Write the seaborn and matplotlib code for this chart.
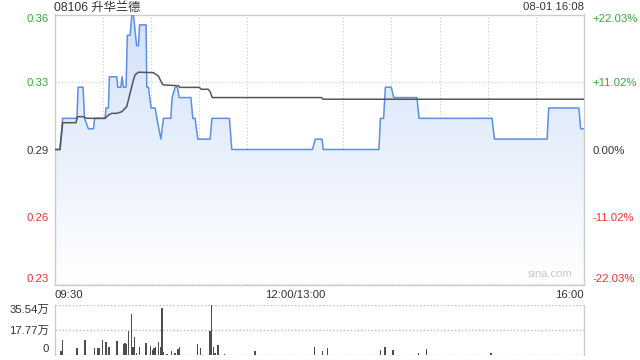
import numpy as np
import pandas as pd
import matplotlib
matplotlib.use("Agg")
import matplotlib.pyplot as plt
import seaborn as sns

# ---------------- data ----------------
title = "08106 升华兰德"
stamp = "08-01 16:08"
prev_close = 0.295
pct_levels = [-0.2203, -0.1102, 0.0, 0.1102, 0.2203]
price_labels = ["0.23", "0.26", "0.29", "0.33", "0.36"]
pct_labels = ["-22.03%", "-11.02%", "0.00%", "+11.02%", "+22.03%"]
time_ticks = [0, 150, 330]
time_labels = ["09:30", "12:00/13:00", "16:00"]

# minutes after 09:30 on the trading clock (lunch break removed)
price_t = [0, 3.4, 5.1, 14.0, 14.7, 17.8, 18.7, 21.1, 24.3, 25.0, 31.5, 32.1, 33.6, 34.2,
           38.8, 39.4, 41.3, 42.1, 42.9, 44.6, 45.4, 47.1, 48.2, 49.2, 51.2, 52.3, 53.0,
           57.1, 57.5, 58.6, 60.2, 62.7, 63.8, 66.3, 67.9, 72.5, 73.3, 75.2, 76.6, 77.7,
           85.0, 86.2, 87.6, 89.3, 97.0, 98.1, 109.0, 110.5, 160.8, 162.5, 166.7, 167.5,
           202.2, 203.1, 205.1, 206.2, 209.9, 211.4, 225.9, 227.2, 272.7, 274.2, 307.0,
           308.0, 326.8, 327.9, 330]
price_p = [0.295, 0.295, 0.310, 0.310, 0.325, 0.325, 0.310, 0.305, 0.305, 0.310, 0.310,
           0.315, 0.315, 0.330, 0.330, 0.325, 0.325, 0.330, 0.325, 0.325, 0.350, 0.350,
           0.360, 0.360, 0.345, 0.345, 0.355, 0.355, 0.325, 0.325, 0.315, 0.315, 0.310,
           0.300, 0.310, 0.310, 0.320, 0.325, 0.325, 0.320, 0.320, 0.310, 0.310, 0.300,
           0.300, 0.310, 0.310, 0.295, 0.295, 0.300, 0.300, 0.295, 0.295, 0.310, 0.310,
           0.325, 0.325, 0.320, 0.320, 0.310, 0.310, 0.300, 0.300, 0.315, 0.315, 0.305,
           0.305]

avg_t = [0, 3.4, 5.1, 13.4, 14.3, 18.0, 20.1, 31.5, 33.6, 35.7, 38.8, 41.9, 45.0, 47.1,
         49.2, 50.2, 52.3, 61.6, 64.8, 66.9, 67.7, 77.2, 78.3, 90.3, 91.4, 95.8, 97.0,
         98.3, 166.3, 167.5, 330]
avg_p = [0.295, 0.295, 0.3079, 0.3079, 0.3108, 0.3108, 0.3100, 0.3100, 0.3116, 0.3124,
         0.3124, 0.3132, 0.3156, 0.3221, 0.3285, 0.3309, 0.3322, 0.3320, 0.3303, 0.3269,
         0.3261, 0.3257, 0.3249, 0.3249, 0.3240, 0.3240, 0.3228, 0.3200, 0.3200, 0.3192,
         0.3192]

vol_t = [4, 5, 14, 19, 25, 27, 28, 30, 32, 34, 39, 43, 44, 45, 46, 48, 49, 50, 51, 53,
         57, 60, 61, 62, 63, 65, 66, 67, 68, 70, 73, 75, 77, 78, 89, 91, 97, 98, 99, 100,
         102, 106, 125, 162, 167, 170, 203, 206, 211, 227, 232, 272]
vol_v = [2.4, 10.3, 4.6, 10.3, 4.6, 4.6, 4.6, 10.3, 8.9, 5.5, 9.6, 7.5, 8.2, 7.7, 17.1,
         29.1, 5.3, 12.5, 1.2, 5.3, 8.2, 6.0, 3.1, 4.8, 5.3, 8.9, 5.3, 33.4, 1.7, 0.5, 2.4,
         1.2, 4.3, 5.3, 7.5, 4.6, 16.8, 35.54, 5.3, 1.2, 6.7, 0.5, 2.4, 5.3, 2.4, 4.6, 2.9,
         5.3, 2.9, 1.0, 3.6, 0.8]
vol_ticks = [0, 17.77, 35.54]
vol_labels = ["0", "17.77万", "35.54万"]

# ---------------- style ----------------
sns.set_theme(style="white")
plt.rcParams["font.family"] = ["Liberation Sans", "Noto Sans CJK SC", "DejaVu Sans"]

GREEN = "#2fae2f"
RED = "#ee3030"
TXT = "#333333"
BORDER = "#cccccc"
GRID = "#c8c8c8"
BLUE = "#5b8fe8"

W, H = 640, 360
fig = plt.figure(figsize=(6.4, 3.6), dpi=100)
L, R = 54.5, 584.0
ax = fig.add_axes([L / W, 1 - 284.5 / H, (R - L) / W, 270 / H])
axv = fig.add_axes([L / W, 1 - 354.5 / H, (R - L) / W, 49.5 / H])

ylo = prev_close * (1 + pct_levels[0])
yhi = prev_close * (1 + pct_levels[-1])
ypos = [prev_close * (1 + p) for p in pct_levels]

# gradient fill under price line
poly = ax.fill_between(price_t, price_p, ylo, color="none", lw=0)
grad = np.linspace(0, 1, 256).reshape(-1, 1)
cmap = matplotlib.colors.LinearSegmentedColormap.from_list("g", ["#ffffff", "#d2e1f9"])
im = ax.imshow(grad, extent=[0, 330, ylo, yhi], origin="lower", aspect="auto",
               cmap=cmap, zorder=1)
im.set_clip_path(poly.get_paths()[0], transform=ax.transData)

df_p = pd.DataFrame({"t": price_t, "p": price_p})
df_a = pd.DataFrame({"t": avg_t, "p": avg_p})
sns.lineplot(data=df_p, x="t", y="p", ax=ax, color=BLUE, lw=1.1, estimator=None,
             sort=False, zorder=4)
sns.lineplot(data=df_a, x="t", y="p", ax=ax, color="#555555", lw=1.1, estimator=None,
             sort=False, zorder=5)

ax.set_xlim(0, 330)
ax.set_ylim(ylo, yhi)
ax.set_xlabel("")
ax.set_ylabel("")

# y ticks left
ax.set_yticks(ypos)
ax.set_yticklabels(price_labels)
lab_cols = [RED, RED, TXT, GREEN, GREEN]
for t, c in zip(ax.get_yticklabels(), lab_cols):
    t.set_color(c)
    t.set_fontsize(8.2)
ax.get_yticklabels()[0].set_va("bottom")
ax.get_yticklabels()[-1].set_va("top")
ax.tick_params(axis="y", length=0, pad=4)

# x ticks
ax.set_xticks(time_ticks)
ax.set_xticklabels(time_labels)
ax.set_xticks(range(30, 330, 30), minor=True)
for t in ax.get_xticklabels():
    t.set_fontsize(8.2)
    t.set_color(TXT)
ax.get_xticklabels()[0].set_ha("left")
ax.get_xticklabels()[-1].set_ha("right")
ax.tick_params(axis="x", which="both", length=0, pad=4)

ax.grid(False)
ax.yaxis.grid(True, color=GRID, ls=(0, (1, 2)), lw=0.8)
ax.xaxis.grid(True, which="minor", color=GRID, ls=(0, (1, 2)), lw=0.8)
gl = ax.get_ygridlines()
gl[2].set_linestyle((0, (3, 3)))
gl[2].set_color("#aaaaaa")
for s in ax.spines.values():
    s.set_color(BORDER)
    s.set_linewidth(1)

# right axis
axr = ax.twinx()
axr.set_ylim(ylo, yhi)
axr.set_yticks(ypos)
axr.set_yticklabels(pct_labels)
for t, c in zip(axr.get_yticklabels(), lab_cols):
    t.set_color(c)
    t.set_fontsize(8.2)
axr.get_yticklabels()[0].set_va("bottom")
axr.get_yticklabels()[-1].set_va("top")
axr.tick_params(axis="y", length=0, pad=6)
axr.grid(False)
for s in axr.spines.values():
    s.set_visible(False)

# titles
fig.text(L / W, 1 - 7.5 / H, title, fontsize=8.8, color=TXT, ha="left", va="center")
fig.text(R / W, 1 - 7.5 / H, stamp, fontsize=8.2, color=TXT, ha="right", va="center")
ax.text(0.935, 0.02, "sina.com", transform=ax.transAxes, fontsize=8, color="#c8c8c8",
        ha="center", va="bottom", zorder=6)

# volume
axv.bar(vol_t, vol_v, width=0.85, color="#4d4d4d", lw=0)
axv.set_xlim(0, 330)
axv.set_ylim(0, vol_ticks[-1])
axv.set_xticks([])
axv.set_yticks(vol_ticks)
axv.set_yticklabels(vol_labels)
for t in axv.get_yticklabels():
    t.set_fontsize(8.2)
    t.set_color(TXT)
axv.get_yticklabels()[0].set_va("bottom")
axv.get_yticklabels()[-1].set_va("top")
axv.tick_params(axis="y", length=0, pad=4)
axv.grid(False)
axv.yaxis.grid(True, color="#bbbbbb", ls=(0, (1, 1.5)), lw=1.0)
axv.spines["top"].set_visible(False)
axv.spines["bottom"].set_visible(False)
for k in ("left", "right"):
    axv.spines[k].set_color(BORDER)
    axv.spines[k].set_linewidth(1)

fig.savefig("out.png", dpi=100)
